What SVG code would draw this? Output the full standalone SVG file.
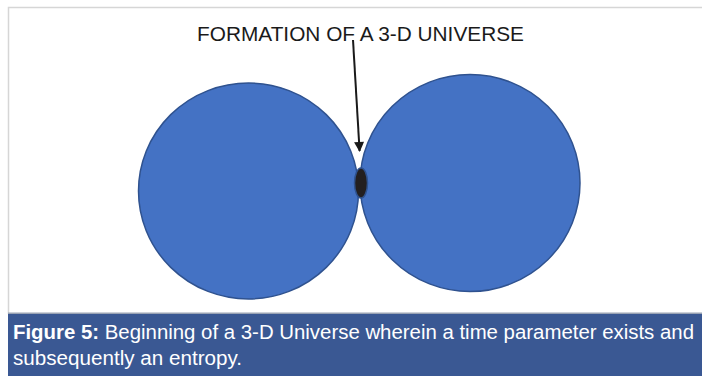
<svg xmlns="http://www.w3.org/2000/svg" width="702" height="376" viewBox="0 0 702 376">
<defs>
<style>
.sphere{fill:#4472c4;stroke:#2f528f;stroke-width:1.5}
.title{font-family:"Liberation Sans",Arial,sans-serif;font-size:21px;fill:#1a1a1a}
.cap{font-family:"Liberation Sans",Arial,sans-serif;font-size:20px;fill:#ffffff}
.conn{stroke:#1a1a1a;stroke-width:2;fill:none}
</style>
<marker id="ah" viewBox="0 0 10 10" refX="9" refY="5" markerWidth="6.5" markerHeight="5" orient="auto" markerUnits="strokeWidth">
<path d="M0,0 L10,5 L0,10 z" fill="#1a1a1a"/>
</marker>
</defs>
<rect x="0" y="0" width="702" height="376" fill="#ffffff"/>
<path d="M8.5,314 V7.5 H702" fill="none" stroke="#d6d6d6" stroke-width="1.5"/>
<g id="left-sphere"><ellipse class="sphere" cx="248.5" cy="191" rx="110" ry="108"/></g>
<g id="right-sphere"><ellipse class="sphere" cx="470" cy="183" rx="110" ry="108.5"/></g>
<g id="singularity"><ellipse cx="361" cy="183" rx="6.5" ry="15" fill="#231f20" stroke="#2f528f" stroke-width="1.5"/></g>
<g id="label"><text class="title" x="197" y="41" textLength="327" lengthAdjust="spacingAndGlyphs">FORMATION OF A 3-D UNIVERSE</text></g>
<g id="connectors"><line class="conn" x1="353" y1="40" x2="359.6" y2="151" marker-end="url(#ah)"/></g>
<rect x="8" y="312.5" width="694" height="1.5" fill="#9aa3b4"/>
<rect x="8" y="314" width="694" height="62" fill="#3a5893"/>
<text class="cap" x="13" y="339" textLength="681" lengthAdjust="spacingAndGlyphs"><tspan font-weight="bold">Figure 5:</tspan> Beginning of a 3-D Universe wherein a time parameter exists and</text>
<text class="cap" x="13" y="365" textLength="229" lengthAdjust="spacingAndGlyphs">subsequently an entropy.</text>
</svg>
